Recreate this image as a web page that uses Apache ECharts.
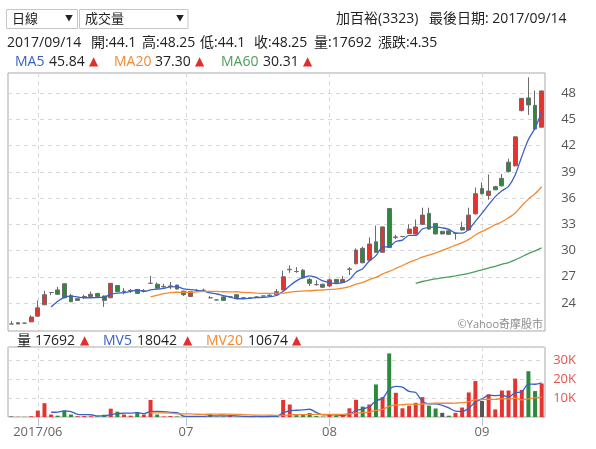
<!DOCTYPE html>
<html>
<head>
<meta charset="utf-8">
<title>加百裕(3323) 日線</title>
<script src="https://cdn.jsdelivr.net/npm/echarts@6.0.0/dist/echarts.min.js"></script>
<style>
  html, body { margin: 0; padding: 0; background: #fff; }
  #chart { width: 596px; height: 449px; }
</style>
</head>
<body>
<div id="chart"></div>
<script>
// 加百裕(3323) daily candles, 2017/05/24 - 2017/09/14
const stockName = "加百裕(3323)";

const dates = [
  "2017/05/24", "2017/05/25", "2017/05/26", "2017/05/31",
  "2017/06/01", "2017/06/02", "2017/06/03", "2017/06/05", "2017/06/06", "2017/06/07", "2017/06/08", "2017/06/09",
  "2017/06/12", "2017/06/13", "2017/06/14", "2017/06/15", "2017/06/16",
  "2017/06/19", "2017/06/20", "2017/06/21", "2017/06/22", "2017/06/23",
  "2017/06/26", "2017/06/27", "2017/06/28", "2017/06/29", "2017/06/30",
  "2017/07/03", "2017/07/04", "2017/07/05", "2017/07/06", "2017/07/07",
  "2017/07/10", "2017/07/11", "2017/07/12", "2017/07/13", "2017/07/14",
  "2017/07/17", "2017/07/18", "2017/07/19", "2017/07/20", "2017/07/21",
  "2017/07/24", "2017/07/25", "2017/07/26", "2017/07/27", "2017/07/28", "2017/07/31",
  "2017/08/01", "2017/08/02", "2017/08/03", "2017/08/04",
  "2017/08/07", "2017/08/08", "2017/08/09", "2017/08/10", "2017/08/11",
  "2017/08/14", "2017/08/15", "2017/08/16", "2017/08/17", "2017/08/18",
  "2017/08/21", "2017/08/22", "2017/08/23", "2017/08/24", "2017/08/25",
  "2017/08/28", "2017/08/29", "2017/08/30", "2017/08/31",
  "2017/09/01", "2017/09/04", "2017/09/05", "2017/09/06", "2017/09/07", "2017/09/08",
  "2017/09/11", "2017/09/12", "2017/09/13", "2017/09/14"
];

// [open, close, low, high]
const ohlc = [
  [21.6, 21.6, 21.6, 21.95], [21.6, 21.75, 21.6, 21.8], [21.7, 21.7, 21.65, 21.75], [21.85, 22.4, 21.8, 22.6],
  [22.5, 23.45, 22.4, 24.3], [23.8, 24.95, 23.75, 25.4], [25.2, 25.2, 24.9, 25.25], [25.5, 25.0, 24.95, 25.85],
  [26.2, 24.6, 24.55, 26.25], [24.85, 24.15, 24.1, 25.05], [24.3, 24.5, 24.25, 24.6], [24.7, 24.75, 24.45, 24.95],
  [24.75, 25.0, 24.7, 25.3], [25.1, 24.75, 24.7, 25.15], [24.8, 24.3, 23.55, 24.85], [24.6, 26.25, 24.55, 26.3],
  [26.0, 25.3, 25.25, 26.05], [25.3, 25.35, 25.0, 25.7], [25.4, 25.45, 25.15, 25.6], [25.55, 25.1, 25.05, 25.6],
  [25.35, 25.4, 25.2, 25.6], [26.25, 26.25, 26.2, 27.1], [26.15, 25.7, 25.65, 26.35], [25.85, 25.9, 25.75, 26.2],
  [25.9, 25.95, 25.6, 26.4], [26.05, 25.6, 25.55, 26.1], [25.35, 24.95, 24.8, 25.4], [24.75, 25.3, 24.7, 25.35],
  [25.4, 25.45, 25.3, 25.6], [25.45, 25.45, 25.35, 25.65], [24.6, 24.6, 24.55, 24.8], [24.35, 24.35, 24.3, 24.4],
  [24.7, 24.3, 24.25, 24.75], [24.7, 24.7, 24.65, 24.75], [24.95, 24.5, 24.45, 25.0], [24.6, 24.6, 24.55, 24.65],
  [24.6, 24.6, 24.55, 24.65], [24.65, 24.7, 24.6, 24.8], [24.8, 24.8, 24.75, 24.85], [24.85, 24.9, 24.8, 25.0],
  [24.95, 25.3, 24.9, 25.6], [25.5, 27.0, 25.45, 27.7], [27.8, 27.85, 27.45, 28.3], [27.6, 27.6, 27.45, 28.1],
  [27.75, 26.85, 26.8, 27.9], [26.7, 26.25, 25.95, 26.9], [26.1, 26.1, 26.0, 26.6], [26.15, 25.8, 25.75, 26.2],
  [25.95, 26.65, 25.8, 26.8], [26.7, 26.35, 26.3, 26.75], [26.35, 26.7, 26.3, 27.1], [27.85, 27.9, 27.2, 28.1],
  [28.5, 30.05, 28.4, 30.25], [30.25, 28.6, 28.55, 30.45], [28.9, 30.75, 28.85, 31.5], [31.0, 29.8, 29.75, 32.85],
  [29.8, 32.7, 29.75, 32.75], [34.8, 30.35, 30.3, 34.85], [31.5, 31.55, 31.3, 31.8], [31.6, 31.6, 31.5, 31.65],
  [31.95, 32.45, 31.9, 33.0], [31.9, 32.7, 31.85, 33.55], [33.0, 34.05, 32.9, 34.9], [34.25, 32.45, 32.4, 34.9],
  [33.1, 31.9, 31.85, 33.15], [32.2, 31.9, 31.85, 32.25], [32.25, 31.85, 31.8, 32.3], [31.95, 31.95, 31.25, 32.05],
  [32.65, 32.35, 32.3, 33.3], [32.35, 34.05, 32.3, 34.9], [34.2, 36.5, 34.1, 37.2], [37.1, 36.5, 36.4, 37.8],
  [36.3, 36.8, 35.8, 38.7], [37.3, 36.95, 36.9, 37.4], [38.25, 37.4, 37.3, 38.75], [40.1, 39.05, 38.9, 40.5],
  [39.7, 43.0, 39.6, 43.05], [46.0, 47.4, 45.9, 47.45], [47.45, 46.65, 45.5, 49.8], [46.6, 43.9, 43.85, 48.3],
  [44.1, 48.25, 44.1, 48.25]
];

// volume in lots
const volumes = [
  300, 100, 100, 400, 3400, 7300, 1300, 700, 3400, 1300,
  400, 500, 400, 300, 1200, 4400, 2800, 1300, 700, 2600,
  1200, 9000, 1300, 300, 500, 300, 200, 300, 300, 500,
  1600, 200, 300, 700, 200, 200, 100, 200, 400, 500,
  600, 9000, 6600, 1200, 1600, 2100, 500, 200, 1600, 700,
  1100, 4600, 9100, 5500, 6600, 17200, 10500, 33600, 12800, 4600,
  6000, 7500, 10500, 6000, 4500, 2200, 700, 2200, 5000, 13000,
  19000, 8500, 12000, 4000, 14000, 14000, 20300, 14300, 24200, 13700,
  17692
];

// moving average lines as drawn (first value sits at the given index)
const ma5Start = 6;
const ma5 = [
  23.54, 24.2, 24.64, 24.78, 24.69, 24.6, 24.6, 24.63, 24.66, 25.01,
  25.12, 25.19, 25.33, 25.49, 25.32, 25.51, 25.58, 25.67, 25.84, 25.88,
  25.62, 25.54, 25.45, 25.35, 25.15, 25.03, 24.83, 24.68, 24.49, 24.49,
  24.54, 24.62, 24.64, 24.72, 24.86, 25.34, 25.97, 26.53, 26.92, 27.11,
  26.93, 26.52, 26.33, 26.23, 26.32, 26.68, 27.53, 27.92, 28.8, 29.42,
  30.38, 30.44, 31.03, 31.2, 31.73, 31.73, 32.47, 32.65, 32.71, 32.6,
  32.43, 32.01, 31.99, 32.42, 33.34, 34.27, 35.24, 36.16, 36.83, 37.34,
  38.64, 40.76, 42.7, 44.0, 45.84
];
const ma20Start = 21;
const ma20 = [
  24.69, 24.89, 25.07, 25.19, 25.23, 25.21, 25.23, 25.27, 25.34, 25.34,
  25.32, 25.29, 25.28, 25.29, 25.21, 25.18, 25.14, 25.11, 25.1, 25.1,
  25.13, 25.24, 25.33, 25.37, 25.4, 25.46, 25.49, 25.55, 25.59, 25.7,
  25.87, 26.16, 26.36, 26.67, 26.93, 27.33, 27.62, 27.95, 28.29, 28.65,
  28.93, 29.24, 29.48, 29.74, 30.02, 30.31, 30.61, 30.9, 31.28, 31.77,
  32.2, 32.54, 32.96, 33.29, 33.75, 34.27, 35.12, 35.88, 36.49, 37.3
];
const ma60Start = 61;
const ma60 = [
  26.25, 26.46, 26.63, 26.77, 26.88, 26.99, 27.11, 27.24, 27.4, 27.6,
  27.8, 28.0, 28.2, 28.42, 28.63, 28.93, 29.29, 29.65, 29.96, 30.31
];
const mv5Start = 6;
const mv5 = [
  2500, 2620, 3220, 2800, 1420, 1260, 1200, 580, 560, 1360,
  1820, 2000, 2080, 2360, 1720, 2960, 2960, 2880, 2460, 2280,
  520, 320, 320, 320, 580, 580, 580, 660, 600, 320,
  240, 280, 220, 280, 360, 2140, 3420, 3580, 3800, 4100,
  2400, 1120, 1200, 1020, 820, 1640, 3420, 4200, 5380, 8600,
  9780, 14680, 16140, 15740, 13500, 12900, 8280, 6920, 6900, 6140,
  4780, 3120, 2920, 4620, 7980, 9540, 11500, 11300, 11500, 10500,
  12860, 13320, 17360, 17300, 18042
];
const mv20Start = 21;
const mv20 = [
  2135, 2195, 2190, 2045, 1695, 1640, 1620, 1465, 1425, 1485,
  1470, 1465, 1485, 1435, 1225, 1090, 1035, 1020, 915, 885,
  885, 1150, 1195, 1250, 1340, 1355, 1350, 1415, 1425, 1400,
  1620, 2060, 2300, 2620, 3470, 3990, 5660, 6280, 6485, 6755,
  6680, 6875, 7115, 7260, 7265, 7275, 7375, 7545, 8160, 9055,
  9250, 9395, 9320, 9690, 9530, 10020, 9055, 9625, 10080, 10674
];

const priceTicks = [24, 27, 30, 33, 36, 39, 42, 45, 48];

const UP = "#e5342f", DOWN = "#2c8a3c", FLAT = "#555";
const BLUE = "#3a62c4", ORANGE = "#f5892f", GREEN = "#4c9e5b";
const font = "'Open Sans', 'Noto Sans CJK TC', sans-serif";

function pad(start, arr) {
  return new Array(start).fill(null).concat(arr);
}

// month starts as fractional positions on the trading-day axis
function monthTicks() {
  let t = dates.map(d => Date.parse(d.replace(/\//g, "-")));
  let ticks = [];
  for (let i = 1; i < dates.length; i++) {
    if (dates[i].slice(5, 7) !== dates[i - 1].slice(5, 7)) {
      let [y, m] = dates[i].split("/");
      let first = Date.parse(`${y}-${m}-01`);
      let pos = (i - 1) + (first - t[i - 1]) / (t[i] - t[i - 1]);
      ticks.push({ pos: pos, label: ticks.length ? m : `${y}/${m}` });
    }
  }
  return ticks;
}

function volColor(i) {
  if (i === 0) return FLAT;
  let d = ohlc[i][1] - ohlc[i - 1][1];
  if (Math.abs(d) < 1e-9) return FLAT;
  return d > 0 ? UP : DOWN;
}

function txt(x, y, text, fill, size) {
  return {
    type: "text", x: x, y: y, silent: true,
    style: {
      text: text, fill: fill || "#222", fontSize: size || 14, fontFamily: font,
      align: "left", textAlign: "left", verticalAlign: "middle", textVerticalAlign: "middle"
    }
  };
}

function arrow(x, y, up) {
  return {
    type: "text", x: x, y: y, silent: true,
    style: {
      text: up ? "▲" : "▼", fill: up ? "#e0302c" : "#2c8a3c", fontSize: 12,
      fontFamily: "'DejaVu Sans', sans-serif",
      align: "left", textAlign: "left", verticalAlign: "middle", textVerticalAlign: "middle"
    }
  };
}

function last(a) { return a[a.length - 1]; }
function rising(a) { return a[a.length - 1] > a[a.length - 2]; }

function render(elemID) {
  let chart = echarts.init(document.getElementById(elemID));
  let ticks = monthTicks();
  let tickPos = ticks.map(t => t.pos);
  let n = dates.length;
  let lastBar = last(ohlc);
  let change = (lastBar[1] - ohlc[n - 2][1]).toFixed(2);
  let dashed = { type: [4, 4], color: "#d8d8d8", width: 1 };

  let graphic = [
    // selectors
    { type: "rect", silent: true, shape: { x: 6.5, y: 9.5, width: 71, height: 19 }, style: { fill: "#fff", stroke: "#c6c6c6", lineWidth: 1 } },
    txt(12, 19, "日線", "#222", 13),
    txt(65, 19, "▼", "#222", 8),
    { type: "rect", silent: true, shape: { x: 79.5, y: 9.5, width: 108.5, height: 19 }, style: { fill: "#fff", stroke: "#c6c6c6", lineWidth: 1 } },
    txt(85, 19, "成交量", "#222", 13),
    txt(176, 19, "▼", "#222", 8),
    txt(336, 19, stockName),
    txt(429, 19, "最後日期: " + last(dates)),
    // quote line
    txt(7, 43, last(dates)),
    txt(91, 43, "開:" + lastBar[0]),
    txt(142, 43, "高:" + lastBar[3]),
    txt(200, 43, "低:" + lastBar[2]),
    txt(254, 43, "收:" + lastBar[1]),
    txt(314, 43, "量:" + last(volumes)),
    txt(378, 43, "漲跌:" + change),
    // price MA legend
    txt(15, 62, "MA5", BLUE), txt(49, 62, last(ma5).toFixed(2)), arrow(89, 62, rising(ma5)),
    txt(114, 62, "MA20", ORANGE), txt(155, 62, last(ma20).toFixed(2)), arrow(195, 62, rising(ma20)),
    txt(221, 62, "MA60", GREEN), txt(263, 62, last(ma60).toFixed(2)), arrow(303, 62, rising(ma60)),
    // volume legend
    txt(17, 341, "量"), txt(35, 341, String(last(volumes))), arrow(80, 341, rising(volumes)),
    txt(103, 341, "MV5", BLUE), txt(137, 341, String(last(mv5))), arrow(183, 341, rising(mv5)),
    txt(206, 341, "MV20", ORANGE), txt(248, 341, String(last(mv20))), arrow(292, 341, rising(mv20)),
    // watermark
    { type: "text", x: 543, y: 325, silent: true, z: 10,
      style: { text: "©Yahoo奇摩股市", fill: "#8c8c8c", fontSize: 11, fontFamily: font,
        align: "right", textAlign: "right", verticalAlign: "middle", textVerticalAlign: "middle" } }
  ];

  let option = {
    animation: false,
    textStyle: { fontFamily: font },
    grid: [
      { left: 8, top: 73, width: 537, height: 258, show: true, borderColor: "#a8a8a8", borderWidth: 1 },
      { left: 8, top: 347, width: 537, height: 70, show: true, borderColor: "#a8a8a8", borderWidth: 1 }
    ],
    xAxis: [
      { type: "category", gridIndex: 0, position: "bottom", data: dates, boundaryGap: true, show: false },
      {
        type: "value", gridIndex: 0, position: "bottom", min: -0.5, max: n - 0.5,
        axisLine: { show: false },
        axisTick: { show: false, customValues: tickPos },
        axisLabel: { show: false, customValues: tickPos },
        splitLine: { show: true, lineStyle: dashed }
      },
      { type: "category", gridIndex: 1, position: "bottom", data: dates, boundaryGap: true, show: false },
      {
        type: "value", gridIndex: 1, position: "bottom", min: -0.5, max: n - 0.5,
        axisLine: { show: false },
        axisTick: { show: true, length: 9, customValues: tickPos, lineStyle: { color: "#b6c6dc" } },
        axisLabel: {
          customValues: tickPos, color: "#666", fontSize: 13, margin: 9,
          formatter: v => {
            let t = ticks.find(k => Math.abs(k.pos - v) < 1e-6);
            return t ? t.label : "";
          }
        },
        splitLine: { show: true, lineStyle: dashed }
      }
    ],
    yAxis: [
      {
        type: "value", gridIndex: 0, position: "right", min: 20.8, max: 50.3,
        axisLine: { show: false },
        axisTick: { show: false, customValues: priceTicks },
        axisLabel: { customValues: priceTicks, align: "right", margin: 31, color: "#555", fontSize: 13 },
        splitLine: { show: true, lineStyle: dashed }
      },
      {
        type: "value", gridIndex: 1, position: "right", min: 0, max: 37000, interval: 10000,
        axisLine: { show: false },
        axisTick: { show: false },
        axisLabel: {
          align: "right", margin: 31, color: "#e4554d", fontSize: 13,
          formatter: v => (v > 0 && v % 10000 === 0) ? (v / 1000) + "K" : ""
        },
        splitLine: { show: true, lineStyle: dashed }
      }
    ],
    series: [
      {
        type: "candlestick", xAxisIndex: 0, yAxisIndex: 0, data: ohlc, barWidth: "66%", silent: true,
        itemStyle: {
          color: UP, color0: DOWN,
          borderColor: "#6b6b6b", borderColor0: "#6b6b6b", borderColorDoji: "#6b6b6b", borderWidth: 1
        }
      },
      { type: "line", xAxisIndex: 0, yAxisIndex: 0, data: pad(ma5Start, ma5), symbol: "none", smooth: 0.3, silent: true,
        lineStyle: { color: BLUE, width: 1.3 } },
      { type: "line", xAxisIndex: 0, yAxisIndex: 0, data: pad(ma20Start, ma20), symbol: "none", smooth: 0.3, silent: true,
        lineStyle: { color: ORANGE, width: 1.3 } },
      { type: "line", xAxisIndex: 0, yAxisIndex: 0, data: pad(ma60Start, ma60), symbol: "none", smooth: 0.3, silent: true,
        lineStyle: { color: GREEN, width: 1.3 } },
      {
        type: "bar", xAxisIndex: 2, yAxisIndex: 1, barWidth: "60%", silent: true,
        data: volumes.map((v, i) => ({ value: v, itemStyle: { color: volColor(i) } }))
      },
      { type: "line", xAxisIndex: 2, yAxisIndex: 1, data: pad(mv5Start, mv5), symbol: "none", smooth: 0.3, silent: true,
        lineStyle: { color: BLUE, width: 1.3 } },
      { type: "line", xAxisIndex: 2, yAxisIndex: 1, data: pad(mv20Start, mv20), symbol: "none", smooth: 0.3, silent: true,
        lineStyle: { color: ORANGE, width: 1.3 } }
    ],
    graphic: graphic
  };
  chart.setOption(option);
}

render("chart");
</script>
</body>
</html>
